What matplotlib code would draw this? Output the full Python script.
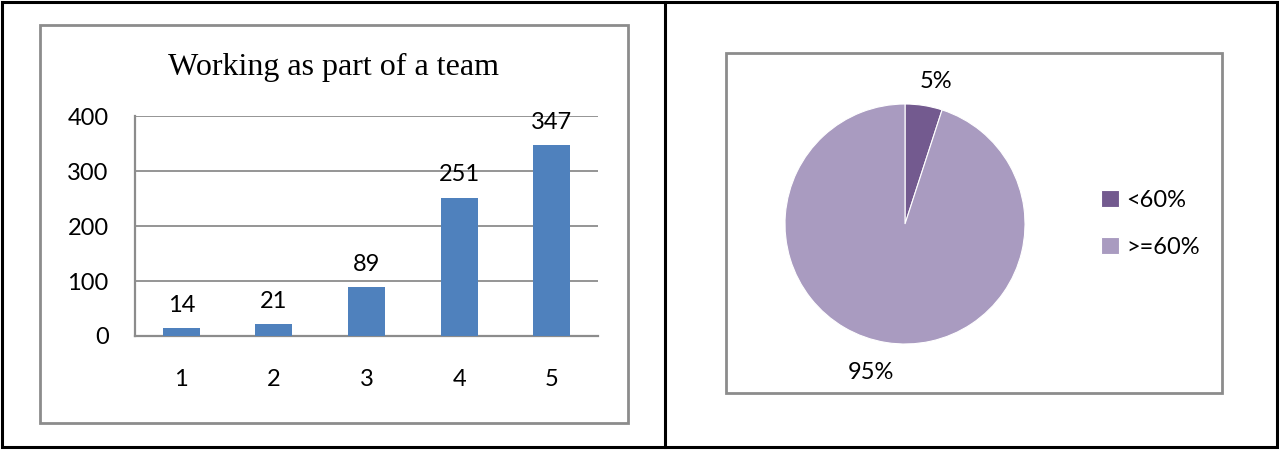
import matplotlib.pyplot as plt
from matplotlib.patches import Rectangle

categories = ["1", "2", "3", "4", "5"]
counts = [14, 21, 89, 251, 347]
yticks = [0, 100, 200, 300, 400]

pie_labels = ["<60%", ">=60%"]
pie_values = [5, 95]
pie_colors = ["#735A8F", "#A99BC0"]

W, H = 1279, 450
fig = plt.figure(figsize=(W / 100, H / 100), dpi=100)


def box(x0, y0, x1, y1, color, lw):
    # pixel coords (top-left origin) -> figure fraction
    r = Rectangle((x0 / W, 1 - y1 / H), (x1 - x0) / W, (y1 - y0) / H,
                  transform=fig.transFigure, fill=False, edgecolor=color,
                  linewidth=lw, zorder=0)
    fig.add_artist(r)


# table frame
box(2, 2, 1277, 447, "black", 2.2)
fig.add_artist(plt.Line2D([665 / W, 665 / W], [3 / H, 1 - 2 / H],
                          transform=fig.transFigure, color="black", lw=2.2))
# chart boxes
box(40, 25, 628, 423, "#8C8C8C", 2)
box(726, 53, 1222, 393, "#8C8C8C", 2)

# bar chart
sans = ["Lato", "DejaVu Sans"]
fs = 17
ax = fig.add_axes([135 / W, 1 - 336 / H, (598 - 135) / W, (336 - 116) / H])
x = range(len(categories))
bars = ax.bar(x, counts, width=0.4, color="#4F81BD", zorder=3)
ax.set_xlim(-0.5, len(categories) - 0.5)
ax.set_ylim(0, 400)
ax.set_yticks(yticks)
ax.set_yticklabels([str(v) for v in yticks], family=sans, fontsize=fs)
ax.set_xticks(list(x))
ax.set_xticklabels(categories, family=sans, fontsize=fs)
ax.tick_params(length=0, pad=19)
ax.tick_params(axis="x", pad=24)
ax.grid(axis="y", color="#8C8C8C", lw=1.3, zorder=0)
for s in ["top", "right"]:
    ax.spines[s].set_visible(False)
for s in ["left", "bottom"]:
    ax.spines[s].set_color("#8C8C8C")
    ax.spines[s].set_linewidth(1.6)
for b, v in zip(bars, counts):
    ax.annotate(str(v), (b.get_x() + b.get_width() / 2, v), xytext=(0, 9),
                textcoords="offset points", ha="center", va="bottom",
                family=sans, fontsize=fs, zorder=4)
fig.text(334 / W, 1 - 67 / H, "Working as part of a team", ha="center",
         va="center", family="Liberation Serif", fontsize=23)

# pie chart
pax = fig.add_axes([(905 - 120) / W, 1 - (224 + 120) / H, 240 / W, 240 / H])
wedges, texts = pax.pie(pie_values, colors=pie_colors, startangle=90,
                        counterclock=False, labels=[f"{v}%" for v in pie_values],
                        labeldistance=1.2,
                        wedgeprops=dict(edgecolor="white", linewidth=0.8),
                        textprops=dict(family=sans, fontsize=fs))
# nudge labels to where Excel put them
x0, y0 = texts[0].get_position()
texts[0].set_position((x0 + 0.07, y0))
texts[0].set_ha("center")
x1, y1 = texts[1].get_position()
texts[1].set_position((x1 - 0.1, y1 - 0.05))
texts[1].set_ha("center")
pax.set_xlim(-1, 1)
pax.set_ylim(-1, 1)
pax.set_aspect("equal")
leg = fig.legend(wedges, pie_labels, loc="center left",
                 bbox_to_anchor=(1080 / W, 1 - 224 / H), frameon=False,
                 prop=dict(family=sans, size=fs), handlelength=0.75,
                 handleheight=0.75, labelspacing=1.1, handletextpad=0.3)

fig.savefig("out.png", dpi=100)
